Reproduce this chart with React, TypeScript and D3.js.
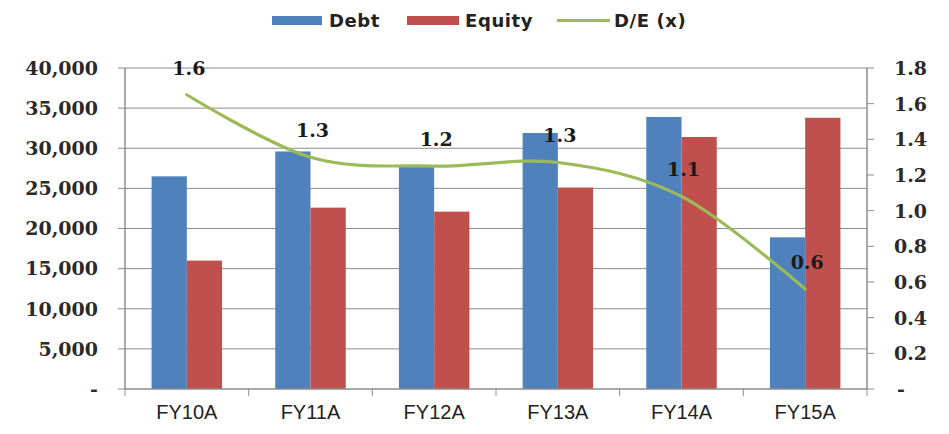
import React from "react";
import * as d3 from "d3";

const categories = ["FY10A", "FY11A", "FY12A", "FY13A", "FY14A", "FY15A"];
const debt = [26500, 29600, 27800, 31900, 33900, 18900];
const equity = [16000, 22600, 22100, 25100, 31400, 33800];
const deRatio = [1.65, 1.3, 1.25, 1.27, 1.08, 0.56];
const deLabels = ["1.6", "1.3", "1.2", "1.3", "1.1", "0.6"];
const leftTicks = [0, 5000, 10000, 15000, 20000, 25000, 30000, 35000, 40000];
const rightTicks = [0, 0.2, 0.4, 0.6, 0.8, 1.0, 1.2, 1.4, 1.6, 1.8];

const W = 949, H = 434;
const L = 125, R = 867, T = 68, B = 389;

export default function App() {
  const x = d3.scaleBand<string>().domain(categories).range([L, R]).paddingInner(0).paddingOuter(0);
  const yL = d3.scaleLinear().domain([0, 40000]).range([B, T]);
  const yR = d3.scaleLinear().domain([0, 1.8]).range([B, T]);
  const bw = x.bandwidth();
  const barW = bw * 0.285;
  const cx = (c: string) => (x(c) as number) + bw / 2;
  const fmtL = (v: number) => (v === 0 ? "-" : d3.format(",")(v));
  const fmtR = (v: number) => (v === 0 ? "-" : d3.format(".1f")(v));
  const line = d3
    .line<number>()
    .x((_, i) => cx(categories[i]))
    .y((d) => yR(d))
    .curve(d3.curveCardinal.tension(0));
  const axisColor = "#8c8c8c";
  const numFont = "'DejaVu Serif', serif";
  return (
    <svg width={W} height={H} style={{ position: "absolute", left: 0, top: 0, background: "#fff" }}>
      <rect x={0} y={0} width={W} height={H} fill="#fff" />
      {leftTicks.map((t) => (
        <g key={"g" + t}>
          {t !== 0 && <line x1={L} x2={R} y1={yL(t)} y2={yL(t)} stroke={axisColor} strokeWidth={1} />}
          <line x1={L - 7} x2={L} y1={yL(t)} y2={yL(t)} stroke={axisColor} strokeWidth={1} />
          <text x={98} y={yL(t)} dy="0.36em" textAnchor="end" fontFamily={numFont} fontWeight="bold" fontSize={19} fill="#2a2a2a">
            {fmtL(t)}
          </text>
        </g>
      ))}
      {rightTicks.map((t) => (
        <g key={"r" + t}>
          <line x1={R} x2={R + 7} y1={yR(t)} y2={yR(t)} stroke={axisColor} strokeWidth={1} />
          <text x={t === 0 ? 897 : 894} y={yR(t)} dy="0.36em" textAnchor="start" fontFamily={numFont} fontWeight="bold" fontSize={19} fill="#2a2a2a">
            {fmtR(t)}
          </text>
        </g>
      ))}
      {categories.map((c, i) => (
        <g key={c}>
          <rect x={cx(c) - barW} y={yL(debt[i])} width={barW} height={B - yL(debt[i])} fill="#4F81BD" />
          <rect x={cx(c)} y={yL(equity[i])} width={barW} height={B - yL(equity[i])} fill="#C0504D" />
        </g>
      ))}
      <line x1={L} x2={L} y1={T} y2={B} stroke={axisColor} strokeWidth={1.5} />
      <line x1={R} x2={R} y1={T} y2={B} stroke={axisColor} strokeWidth={1.5} />
      <line x1={L} x2={R} y1={B} y2={B} stroke={axisColor} strokeWidth={1.5} />
      {[...categories.map((c) => x(c) as number), R].map((v, i) => (
        <line key={"xt" + i} x1={v} x2={v} y1={B} y2={B + 7} stroke={axisColor} strokeWidth={1} />
      ))}
      {categories.map((c) => (
        <text key={"xl" + c} x={cx(c)} y={412} dy="0.36em" textAnchor="middle" fontFamily="'Liberation Sans', sans-serif" fontSize={20} fill="#222">
          {c}
        </text>
      ))}
      <path d={line(deRatio) || ""} fill="none" stroke="#9BBB59" strokeWidth={3.2} strokeLinecap="round" />
      {categories.map((c, i) => (
        <text key={"dl" + c} x={cx(c) + 2} y={yR(deRatio[i]) - 27} dy="0.36em" textAnchor="middle" fontFamily={numFont} fontWeight="bold" fontSize={19} fill="#1a1a1a">
          {deLabels[i]}
        </text>
      ))}
      <g fontFamily="'DejaVu Sans', sans-serif" fontWeight="bold" fontSize={18} fill="#222">
        <rect x={272} y={16} width={50} height={9} fill="#4F81BD" />
        <text x={329} y={21} dy="0.36em" letterSpacing={0.6}>Debt</text>
        <rect x={407} y={16} width={52} height={9} fill="#C0504D" />
        <text x={465} y={21} dy="0.36em" letterSpacing={0.6}>Equity</text>
        <line x1={557} x2={610} y1={20.5} y2={20.5} stroke="#9BBB59" strokeWidth={3} />
        <text x={614} y={21} dy="0.36em" letterSpacing={0.6}>D/E (x)</text>
      </g>
    </svg>
  );
}
